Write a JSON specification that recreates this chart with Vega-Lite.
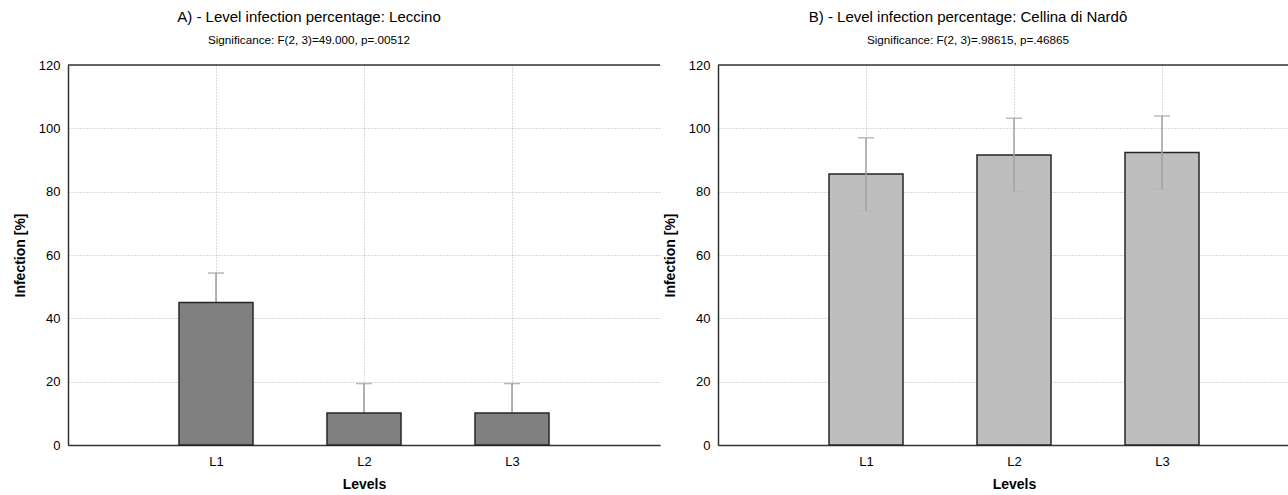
{
  "$schema": "https://vega.github.io/schema/vega-lite/v6.json",
  "padding": {"left": 13, "top": 10, "right": 0, "bottom": 0},
  "background": "white",
  "config": {
    "font": "Liberation Sans",
    "view": {"stroke": null},
    "concat": {"spacing": 2},
    "axis": {
      "domainColor": "#333333",
      "domainWidth": 1.5,
      "tickSize": 0,
      "labelFontSize": 13,
      "labelColor": "#000000",
      "titleFontSize": 14,
      "titleFontWeight": "bold",
      "titleColor": "#000000",
      "gridColor": "#b4b4b4",
      "gridDash": [1, 2],
      "gridWidth": 1
    },
    "title": {"fontSize": 15, "fontWeight": "normal", "color": "#000000", "subtitleFontSize": 11.7, "subtitleColor": "#000000", "subtitlePadding": 10, "anchor": "middle", "offset": 12}
  },
  "datasets": {
    "A": [
      {"level": "L1", "mean": 45.0, "lower": 35.7, "upper": 54.3},
      {"level": "L2", "mean": 10.1, "lower": 0.8, "upper": 19.4},
      {"level": "L3", "mean": 10.1, "lower": 0.8, "upper": 19.4}
    ],
    "B": [
      {"level": "L1", "mean": 85.6, "lower": 74.0, "upper": 97.0},
      {"level": "L2", "mean": 91.6, "lower": 80.0, "upper": 103.2},
      {"level": "L3", "mean": 92.4, "lower": 80.8, "upper": 103.9}
    ]
  },
  "hconcat": [
    {
      "width": 592,
      "height": 380,
      "title": {"text": "A) - Level infection percentage: Leccino", "subtitle": "Significance: F(2, 3)=49.000, p=.00512", "dx": -55},
      "data": {"name": "A"},
      "layer": [
        {
          "mark": {"type": "rule", "color": "#9a9a9a", "strokeWidth": 1.5},
          "encoding": {
            "x": {"field": "level", "type": "nominal", "sort": null, "scale": {"type": "point", "padding": 1},
              "axis": {"title": "Levels", "labelAngle": 0, "labelPadding": 10, "titlePadding": 9, "grid": true}},
            "y": {"field": "lower", "type": "quantitative", "scale": {"domain": [0, 120], "nice": false},
              "axis": {"title": "Infection [%]", "values": [0, 20, 40, 60, 80, 100, 120], "labelPadding": 8, "titlePadding": 11, "grid": true}},
            "y2": {"field": "upper"}
          }
        },
        {
          "mark": {"type": "tick", "orient": "horizontal", "size": 16, "thickness": 1.5, "color": "#9a9a9a"},
          "encoding": {
            "x": {"field": "level", "type": "nominal", "sort": null},
            "y": {"field": "upper", "type": "quantitative"}
          }
        },
        {
          "mark": {"type": "bar", "width": 74, "fill": "#808080", "stroke": "#262626", "strokeWidth": 1.5},
          "encoding": {
            "x": {"field": "level", "type": "nominal", "sort": null},
            "y": {"field": "mean", "type": "quantitative"}
          }
        },
        {
          "data": {"values": [{}]},
          "mark": {"type": "rule", "color": "#333333", "strokeWidth": 1.5},
          "encoding": {"y": {"datum": 120, "type": "quantitative"}}
        }
      ]
    },
    {
      "width": 592,
      "height": 380,
      "title": {"text": "B) - Level infection percentage: Cellina di Nardô", "subtitle": "Significance: F(2, 3)=.98615, p=.46865", "dx": -46},
      "data": {"name": "B"},
      "layer": [
        {
          "mark": {"type": "bar", "width": 74, "fill": "#bebebe", "stroke": "#262626", "strokeWidth": 1.5},
          "encoding": {
            "x": {"field": "level", "type": "nominal", "sort": null, "scale": {"type": "point", "padding": 1},
              "axis": {"title": "Levels", "labelAngle": 0, "labelPadding": 10, "titlePadding": 9, "grid": true}},
            "y": {"field": "mean", "type": "quantitative", "scale": {"domain": [0, 120], "nice": false},
              "axis": {"title": "Infection [%]", "values": [0, 20, 40, 60, 80, 100, 120], "labelPadding": 8, "titlePadding": 11, "grid": true}}
          }
        },
        {
          "mark": {"type": "rule", "color": "#a0a0a0", "strokeWidth": 1.5},
          "encoding": {
            "x": {"field": "level", "type": "nominal", "sort": null},
            "y": {"field": "lower", "type": "quantitative"},
            "y2": {"field": "upper"}
          }
        },
        {
          "mark": {"type": "tick", "orient": "horizontal", "size": 16, "thickness": 1.5, "color": "#a0a0a0"},
          "encoding": {
            "x": {"field": "level", "type": "nominal", "sort": null},
            "y": {"field": "upper", "type": "quantitative"}
          }
        },
        {
          "mark": {"type": "tick", "orient": "horizontal", "size": 16, "thickness": 1, "color": "#b0b0b0"},
          "encoding": {
            "x": {"field": "level", "type": "nominal", "sort": null},
            "y": {"field": "lower", "type": "quantitative"}
          }
        },
        {
          "data": {"values": [{}]},
          "mark": {"type": "rule", "color": "#333333", "strokeWidth": 1.5},
          "encoding": {"y": {"datum": 120, "type": "quantitative"}}
        }
      ]
    }
  ]
}
